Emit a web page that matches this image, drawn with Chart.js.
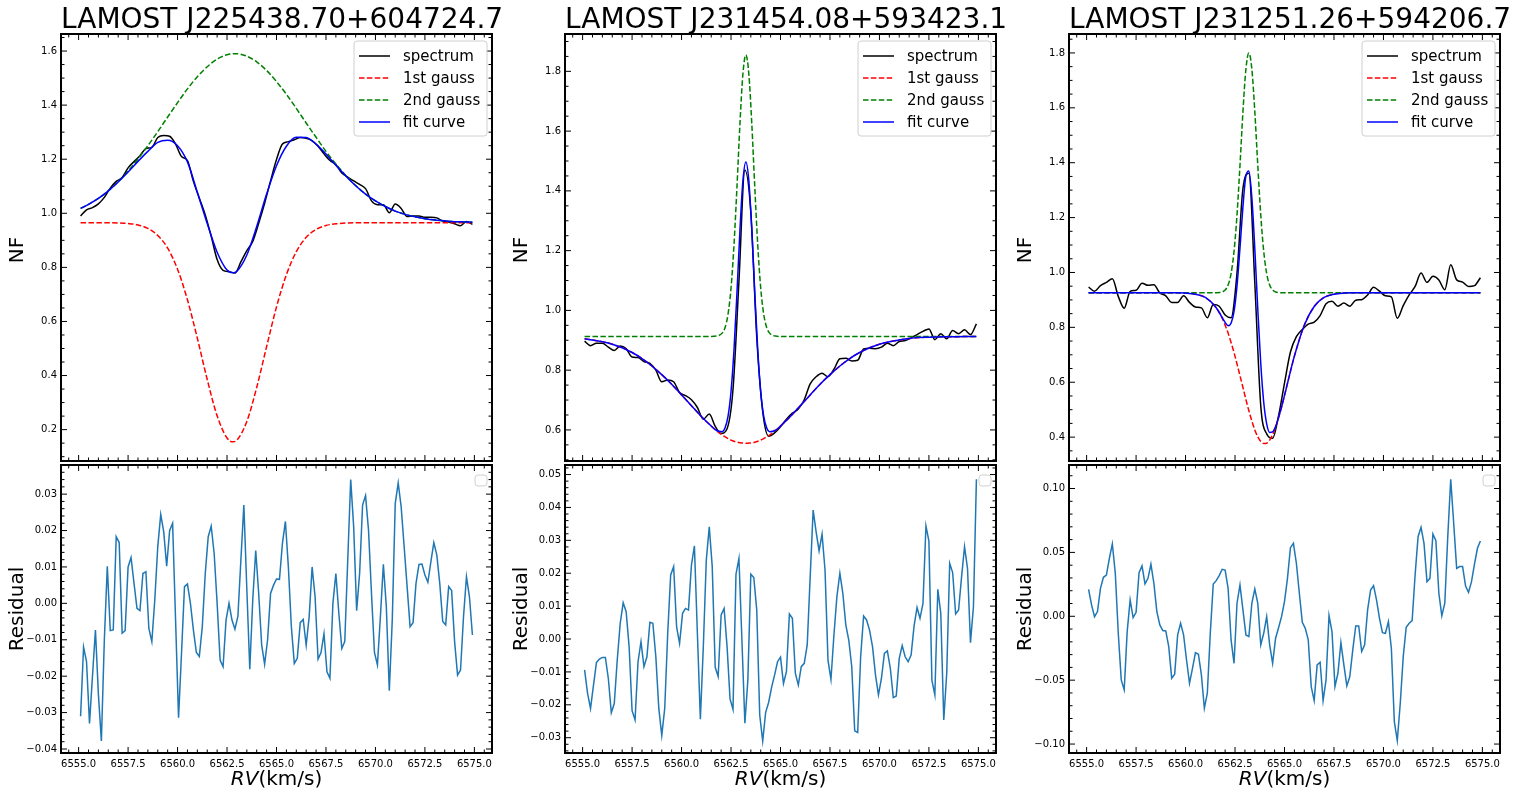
<!DOCTYPE html>
<html><head><meta charset="utf-8">
<script src="https://cdn.jsdelivr.net/npm/chart.js@4.4.1/dist/chart.umd.min.js"></script>
<style>
html,body{margin:0;padding:0;background:#fff;}
body{position:relative;width:1514px;height:797px;overflow:hidden;font-family:'DejaVu Sans',sans-serif;color:#000;}
.ttl{position:absolute;top:5px;width:431px;text-align:center;font-size:28px;line-height:28px;white-space:nowrap;}
.yl{position:absolute;width:200px;height:20px;line-height:20px;font-size:20px;text-align:center;transform:rotate(-90deg);white-space:nowrap;}
.xl{position:absolute;top:768px;width:431px;text-align:center;font-size:20px;line-height:20px;white-space:nowrap;}
canvas{position:absolute;}
</style></head><body>
<script>
// ---------------- data ----------------
const titles = ['LAMOST J225438.70+604724.7','LAMOST J231454.08+593423.1','LAMOST J231251.26+594206.7'];
const legendLabels = ['spectrum','1st gauss','2nd gauss','fit curve'];
const rvTicks = [6555.0,6557.5,6560.0,6562.5,6565.0,6567.5,6570.0,6572.5,6575.0];
const nfTicks1 = [0.2,0.4,0.6,0.8,1.0,1.2,1.4,1.6];
const nfTicks2 = [0.6,0.8,1.0,1.2,1.4,1.6,1.8];
const nfTicks3 = [0.4,0.6,0.8,1.0,1.2,1.4,1.6,1.8];
const resTicks1 = [-0.04,-0.03,-0.02,-0.01,0.00,0.01,0.02,0.03];
const resTicks2 = [-0.03,-0.02,-0.01,0.00,0.01,0.02,0.03,0.04,0.05];
const resTicks3 = [-0.10,-0.05,0.00,0.05,0.10];

// residual grid
const rv = [6555.10,6555.25,6555.40,6555.55,6555.70,6555.85,6556.00,6556.15,6556.30,6556.45,
6556.60,6556.75,6556.90,6557.05,6557.20,6557.35,6557.50,6557.65,6557.80,6557.95,
6558.10,6558.25,6558.40,6558.55,6558.70,6558.85,6559.00,6559.15,6559.30,6559.45,
6559.60,6559.75,6559.90,6560.05,6560.20,6560.35,6560.50,6560.65,6560.80,6560.95,
6561.10,6561.25,6561.40,6561.55,6561.70,6561.85,6562.00,6562.15,6562.30,6562.45,
6562.60,6562.75,6562.90,6563.05,6563.20,6563.35,6563.50,6563.65,6563.80,6563.95,
6564.10,6564.25,6564.40,6564.55,6564.70,6564.85,6565.00,6565.15,6565.30,6565.45,
6565.60,6565.75,6565.90,6566.05,6566.20,6566.35,6566.50,6566.65,6566.80,6566.95,
6567.10,6567.25,6567.40,6567.55,6567.70,6567.85,6568.00,6568.15,6568.30,6568.45,
6568.60,6568.75,6568.90,6569.05,6569.20,6569.35,6569.50,6569.65,6569.80,6569.95,
6570.10,6570.25,6570.40,6570.55,6570.70,6570.85,6571.00,6571.15,6571.30,6571.45,
6571.60,6571.75,6571.90,6572.05,6572.20,6572.35,6572.50,6572.65,6572.80,6572.95,
6573.10,6573.25,6573.40,6573.55,6573.70,6573.85,6574.00,6574.15,6574.30,6574.45,
6574.60,6574.75,6574.90];

const res1 = [-0.031,-0.012,-0.016,-0.033,-0.020,-0.0073,-0.025,-0.0378,-0.010,0.0102,
-0.0075,-0.0073,0.0183,0.0167,-0.0082,-0.0075,0.0100,0.0126,0.0055,-0.0014,
-0.0020,0.0082,0.0087,-0.0069,-0.0105,0.0010,0.0156,0.0244,0.0197,0.0102,
0.0200,0.0220,-0.0046,-0.0314,-0.0137,0.0046,0.0053,0.0000,-0.0073,-0.0135,
-0.0146,-0.0064,0.0082,0.0183,0.0212,0.0137,0.0000,-0.0156,-0.0174,-0.0046,
0.0000,-0.0046,-0.0071,-0.0035,0.0119,0.0270,0.0040,-0.0181,0.0010,0.0145,
0.0027,-0.0114,-0.0167,-0.0100,0.0027,0.0050,0.0067,0.0066,0.0165,0.0225,
0.0100,-0.0064,-0.0165,-0.0151,-0.0053,-0.0044,-0.0115,-0.0037,0.0100,0.0018,
-0.0153,-0.0135,-0.0083,-0.0188,-0.0206,0.0000,0.0082,-0.0027,-0.0124,-0.0105,
0.0119,0.0340,0.0210,-0.0020,0.0082,0.0270,0.0296,0.0201,0.0027,-0.0135,
-0.0169,-0.0037,0.0107,-0.0009,-0.0240,-0.0046,0.0274,0.0331,0.0265,0.0156,
0.0046,-0.0064,-0.0053,0.0055,0.0107,0.0108,0.0078,0.0058,0.0114,0.0167,
0.0133,0.0055,-0.0050,-0.0059,0.0046,0.0035,-0.0105,-0.0197,-0.0183,-0.0037,
0.0073,0.0018,-0.0087];

const res2 = [-0.0094,-0.0165,-0.0211,-0.0140,-0.0071,-0.0061,-0.0056,-0.0056,-0.0120,-0.0224,
-0.0196,-0.0064,0.0048,0.0110,0.0083,-0.0023,-0.0218,-0.0246,-0.0069,-0.0008,
-0.0084,-0.0054,0.0051,0.0048,-0.0054,-0.0211,-0.0293,-0.0211,0.0017,0.0195,
0.0220,0.0037,-0.0013,0.0078,0.0093,0.0088,0.0225,0.0283,0.0017,-0.0244,
-0.0023,0.0240,0.0341,0.0220,-0.0086,-0.0114,0.0073,0.0093,-0.0023,-0.0182,
-0.0214,0.0197,0.0245,-0.0003,-0.0256,-0.0125,0.0197,0.0187,0.0088,-0.0231,
-0.0310,-0.0223,-0.0193,-0.0147,-0.0110,-0.0069,-0.0055,-0.0135,-0.0099,0.0076,
0.0063,-0.0104,-0.0140,-0.0084,-0.0074,-0.0018,0.0189,0.0392,0.0326,0.0268,
0.0319,0.0210,-0.0064,-0.0123,0.0012,0.0129,0.0200,0.0139,0.0043,-0.0003,
-0.0084,-0.0279,-0.0284,-0.0054,0.0070,0.0058,0.0027,-0.0023,-0.0109,-0.0170,
-0.0120,-0.0044,-0.0036,-0.0089,-0.0178,-0.0173,-0.0059,-0.0020,-0.0054,-0.0069,
-0.0049,0.0040,0.0096,0.0063,0.0108,0.0344,0.0298,-0.0125,-0.0170,0.0151,
0.0078,-0.0246,-0.0104,0.0230,0.0202,0.0076,0.0088,0.0189,0.0281,0.0215,
-0.0011,0.0098,0.0486];

const res3 = [0.0211,0.0089,-0.0003,0.0037,0.0219,0.0305,0.0323,0.0454,0.0566,0.0336,
-0.0133,-0.0498,-0.0576,-0.0120,0.0128,-0.0010,0.0031,0.0342,0.0394,0.0253,
0.0297,0.0407,0.0258,0.0037,-0.0068,-0.0112,-0.0115,-0.0237,-0.0485,-0.0454,
-0.0146,-0.0055,-0.0146,-0.0342,-0.0524,-0.0407,-0.0284,-0.0297,-0.0459,-0.0720,
-0.0602,-0.0133,0.0253,0.0279,0.0318,0.0368,0.0362,0.0219,-0.0185,-0.0368,
0.0102,0.0245,0.0050,-0.0146,-0.0159,0.0102,0.0214,0.0102,-0.0224,-0.0133,
-0.0003,-0.0224,-0.0368,-0.0172,-0.0090,-0.0003,0.0115,0.0297,0.0537,0.0571,
0.0415,0.0180,-0.0047,-0.0094,-0.0185,-0.0550,-0.0660,-0.0381,-0.0360,-0.0660,
-0.0498,0.0005,-0.0120,-0.0550,-0.0446,-0.0206,-0.0381,-0.0545,-0.0472,-0.0263,
-0.0076,-0.0076,-0.0276,-0.0224,0.0050,0.0206,0.0240,0.0128,-0.0016,-0.0128,
-0.0133,-0.0042,-0.0250,-0.0824,-0.0973,-0.0681,-0.0316,-0.0086,-0.0055,-0.0034,
0.0323,0.0623,0.0696,0.0571,0.0271,0.0297,0.0644,0.0592,0.0180,0.0003,
0.0102,0.0623,0.1072,0.0728,0.0375,0.0389,0.0389,0.0237,0.0188,0.0271,
0.0409,0.0532,0.0589];

// spectrum grid
const specRV = [6555.1,6555.4,6555.7,6556.0,6556.3,6556.6,6556.9,6557.2,6557.5,6557.8,
6558.1,6558.4,6558.7,6559.0,6559.3,6559.6,6559.9,6560.2,6560.5,6560.8,
6561.1,6561.4,6561.7,6562.0,6562.3,6562.6,6562.9,6563.2,6563.5,6563.8,
6564.1,6564.4,6564.7,6565.0,6565.3,6565.6,6565.9,6566.2,6566.5,6566.8,
6567.1,6567.4,6567.7,6568.0,6568.3,6568.6,6568.9,6569.2,6569.5,6569.8,
6570.1,6570.4,6570.7,6571.0,6571.3,6571.6,6571.9,6572.2,6572.5,6572.8,
6573.1,6573.4,6573.7,6574.0,6574.3,6574.6,6574.9];

const spec1 = [0.990,1.013,1.021,1.035,1.059,1.093,1.118,1.132,1.168,1.191,
1.213,1.239,1.244,1.280,1.288,1.285,1.256,1.210,1.195,1.118,
1.056,0.994,0.915,0.829,0.789,0.784,0.779,0.820,0.862,0.896,
0.963,1.037,1.120,1.199,1.256,1.265,1.272,1.280,1.277,1.268,
1.248,1.220,1.195,1.180,1.149,1.134,1.120,1.107,1.091,1.046,
1.032,1.032,1.002,1.034,1.018,0.988,0.990,0.990,0.985,0.985,
0.983,0.971,0.968,0.961,0.954,0.970,0.959];

const spec2 = [0.897,0.882,0.890,0.890,0.877,0.866,0.881,0.872,0.844,0.842,
0.829,0.823,0.800,0.761,0.767,0.761,0.725,0.715,0.701,0.675,
0.636,0.653,0.612,0.588,0.604,0.736,1.098,1.470,1.330,0.910,
0.662,0.579,0.590,0.611,0.636,0.656,0.670,0.701,0.754,0.778,
0.790,0.778,0.803,0.838,0.840,0.831,0.833,0.871,0.873,0.872,
0.877,0.890,0.882,0.896,0.899,0.908,0.919,0.930,0.938,0.902,
0.922,0.905,0.933,0.922,0.935,0.919,0.955];

const spec3 = [0.947,0.932,0.952,0.964,0.977,0.913,0.870,0.931,0.935,0.961,
0.953,0.955,0.925,0.915,0.891,0.891,0.915,0.891,0.874,0.871,
0.835,0.883,0.877,0.845,0.835,0.998,1.306,1.362,0.961,0.514,
0.412,0.396,0.478,0.597,0.710,0.766,0.792,0.812,0.819,0.843,
0.886,0.895,0.877,0.889,0.877,0.899,0.901,0.918,0.946,0.932,
0.915,0.911,0.833,0.879,0.918,0.949,0.998,0.964,0.986,0.973,
0.937,1.028,0.973,0.965,0.949,0.952,0.981];

// smooth curves, panel 1
const curveRV1 = [6555.1,6555.5,6556.0,6556.5,6557.0,6557.5,6558.0,6558.5,6559.0,6559.5,
6560.0,6560.5,6561.0,6561.5,6562.0,6562.5,6562.8,6563.0,6563.5,6564.0,
6564.5,6565.0,6565.5,6566.0,6566.5,6567.0,6567.5,6568.0,6568.5,6569.0,
6569.5,6570.0,6570.5,6571.0,6571.5,6572.0,6572.5,6573.0,6573.5,6574.0,
6574.5,6574.9];
const gaussA1 = [0.965,0.965,0.965,0.965,0.964,0.962,0.957,0.944,0.918,0.871,
0.793,0.680,0.538,0.385,0.251,0.169,0.155,0.161,0.230,0.356,
0.507,0.654,0.773,0.858,0.911,0.940,0.955,0.961,0.964,0.965,
0.965,0.965,0.965,0.965,0.965,0.965,0.965,0.965,0.965,0.965,
0.965,0.965];
const gaussB1 = [1.018,1.033,1.055,1.083,1.117,1.156,1.201,1.250,1.302,1.356,
1.409,1.460,1.505,1.542,1.570,1.586,1.590,1.590,1.581,1.560,
1.528,1.487,1.440,1.388,1.334,1.281,1.229,1.182,1.140,1.103,
1.071,1.046,1.025,1.008,0.996,0.987,0.980,0.975,0.972,0.969,
0.968,0.967];
const fit1 = [1.018,1.033,1.055,1.083,1.116,1.153,1.192,1.229,1.262,1.270,
1.250,1.190,1.078,0.962,0.856,0.790,0.780,0.786,0.846,0.951,
1.071,1.176,1.248,1.281,1.280,1.256,1.219,1.178,1.138,1.102,
1.071,1.046,1.025,1.008,0.996,0.987,0.980,0.975,0.972,0.969,
0.968,0.967];

// smooth curves, panel 2
const curveRV2 = [6555.1,6555.5,6556.0,6556.5,6557.0,6557.5,6558.0,6558.5,6559.0,6559.5,
6560.0,6560.5,6561.0,6561.5,6561.75,
6562.05,6562.2,6562.35,6562.5,6562.65,6562.8,6562.95,6563.1,6563.25,6563.4,
6563.55,6563.7,6563.85,6564.0,6564.15,6564.3,6564.45,
6564.75,6565.0,6565.5,6566.0,6566.5,6567.0,6567.5,6568.0,6568.5,6569.0,
6569.5,6570.0,6570.5,6571.0,6571.5,6572.0,6572.5,6573.0,6573.5,6574.0,
6574.5,6574.9];
const gaussA2 = [0.905,0.901,0.895,0.887,0.875,0.859,0.839,0.814,0.785,0.753,
0.717,0.681,0.645,0.613,0.598,
0.583,0.577,0.571,0.566,0.562,0.559,0.557,0.556,0.555,0.556,
0.557,0.559,0.562,0.566,0.571,0.577,0.583,
0.598,0.613,0.645,0.681,0.717,0.753,0.785,0.814,0.839,0.859,
0.875,0.887,0.895,0.901,0.906,0.909,0.910,0.911,0.912,0.912,
0.913,0.913];
const gaussB2 = [0.913,0.913,0.913,0.913,0.913,0.913,0.913,0.913,0.913,0.913,
0.913,0.913,0.913,0.913,0.914,
0.924,0.943,0.988,1.075,1.219,1.413,1.624,1.791,1.855,1.791,
1.624,1.413,1.219,1.075,0.988,0.943,0.924,
0.914,0.913,0.913,0.913,0.913,0.913,0.913,0.913,0.913,0.913,
0.913,0.913,0.913,0.913,0.913,0.913,0.913,0.913,0.913,0.913,
0.913,0.913];
const fit2 = [0.905,0.901,0.895,0.887,0.875,0.859,0.839,0.814,0.785,0.753,
0.717,0.681,0.645,0.613,0.599,
0.594,0.607,0.646,0.728,0.868,1.059,1.268,1.434,1.497,1.434,
1.268,1.059,0.868,0.728,0.646,0.607,0.594,
0.599,0.613,0.645,0.681,0.717,0.753,0.785,0.814,0.839,0.859,
0.875,0.887,0.895,0.901,0.906,0.909,0.910,0.911,0.912,0.912,
0.913,0.913];

// smooth curves, panel 3
const curveRV3 = [6555.1,6555.5,6556.0,6556.5,6557.0,6557.5,6558.0,6558.5,6559.0,6559.5,
6560.0,6560.5,6561.0,6561.5,
6561.7,6561.85,6562.0,6562.15,6562.3,6562.45,6562.6,6562.75,6562.9,6563.05,
6563.2,6563.35,6563.5,6563.65,6563.8,6563.95,6564.1,6564.25,6564.4,6564.55,
6564.7,6564.85,6565.0,
6565.5,6566.0,6566.5,6567.0,6567.5,6568.0,6568.5,6569.0,6569.5,6570.0,
6570.5,6571.0,6571.5,6572.0,6572.5,6573.0,6573.5,6574.0,6574.5,6574.9];
const gaussA3 = [0.926,0.926,0.926,0.926,0.926,0.926,0.926,0.926,0.926,0.926,
0.925,0.921,0.909,0.876,
0.854,0.833,0.808,0.779,0.745,0.708,0.667,0.624,0.581,0.537,
0.496,0.459,0.426,0.401,0.384,0.377,0.378,0.389,0.409,0.436,
0.471,0.509,0.552,
0.695,0.808,0.876,0.909,0.921,0.925,0.926,0.926,0.926,0.926,
0.926,0.926,0.926,0.926,0.926,0.926,0.926,0.926,0.926,0.926];
const gaussB3 = [0.926,0.926,0.926,0.926,0.926,0.926,0.926,0.926,0.926,0.926,
0.926,0.926,0.926,0.926,
0.927,0.929,0.936,0.954,0.996,1.077,1.210,1.390,1.586,1.741,
1.800,1.741,1.586,1.390,1.210,1.077,0.996,0.954,0.936,0.929,
0.927,0.926,0.926,
0.926,0.926,0.926,0.926,0.926,0.926,0.926,0.926,0.926,0.926,
0.926,0.926,0.926,0.926,0.926,0.926,0.926,0.926,0.926,0.926];
const fit3 = [0.926,0.926,0.926,0.926,0.926,0.926,0.926,0.926,0.926,0.926,
0.925,0.921,0.909,0.876,
0.855,0.836,0.818,0.806,0.815,0.858,0.951,1.089,1.240,1.352,
1.370,1.273,1.086,0.866,0.668,0.527,0.448,0.417,0.419,0.439,
0.471,0.510,0.552,
0.695,0.808,0.876,0.909,0.921,0.925,0.926,0.926,0.926,0.926,
0.926,0.926,0.926,0.926,0.926,0.926,0.926,0.926,0.926,0.926];

// ---------------- drawing ----------------
Chart.defaults.font.family = "'DejaVu Sans', sans-serif";
Chart.defaults.color = '#000';

const COLS = [61, 565, 1069];
const PW = 431;
const LEFTPAD = 48, TOPPAD = 4, RIGHTPAD = 6;

function fmt(v, d) {
  if (Math.abs(v) < 1e-12) v = 0;
  const s = Math.abs(v).toFixed(d);
  return v < 0 ? '\u2212' + s : s;
}
function pts(xs, ys) { return xs.map((x, i) => ({x: x, y: ys[i]})); }

function rrect(ctx, x, y, w, h, r) {
  ctx.beginPath();
  ctx.moveTo(x + r, y); ctx.lineTo(x + w - r, y); ctx.arcTo(x + w, y, x + w, y + r, r);
  ctx.lineTo(x + w, y + h - r); ctx.arcTo(x + w, y + h, x + w - r, y + h, r);
  ctx.lineTo(x + r, y + h); ctx.arcTo(x, y + h, x, y + h - r, r);
  ctx.lineTo(x, y + r); ctx.arcTo(x, y, x + r, y, r); ctx.closePath();
}

const framePlugin = {
  id: 'mplFrame',
  afterDatasetsDraw(chart, args, o) {
    const ctx = chart.ctx, a = chart.chartArea;
    const xs = chart.scales.x, ys = chart.scales.y;
    ctx.save();
    ctx.strokeStyle = '#000';
    ctx.lineWidth = 1;
    const tickX = (v, len) => { const p = xs.getPixelForValue(v); ctx.beginPath(); ctx.moveTo(p, a.bottom); ctx.lineTo(p, a.bottom - len); ctx.moveTo(p, a.top); ctx.lineTo(p, a.top + len); ctx.stroke(); };
    const tickY = (v, len) => { const p = ys.getPixelForValue(v); ctx.beginPath(); ctx.moveTo(a.left, p); ctx.lineTo(a.left + len, p); ctx.moveTo(a.right, p); ctx.lineTo(a.right - len, p); ctx.stroke(); };
    const minors = (min, max, step, majors) => {
      const out = [];
      for (let k = Math.ceil(min / step - 1e-9); k * step <= max + 1e-9; k++) {
        const v = k * step;
        if (!majors.some(m => Math.abs(m - v) < step * 1e-3)) out.push(v);
      }
      return out;
    };
    o.xMajor.forEach(v => tickX(v, 6));
    minors(xs.min, xs.max, o.xMinor, o.xMajor).forEach(v => tickX(v, 3.5));
    o.yMajor.forEach(v => tickY(v, 6));
    minors(ys.min, ys.max, o.yMinor, o.yMajor).forEach(v => tickY(v, 3.5));
    ctx.lineWidth = 2;
    ctx.strokeRect(a.left, a.top, a.right - a.left, a.bottom - a.top);
    if (o.legend) {
      const bw = 133, bh = 95, bx = a.right - 5 - bw, by = a.top + 7;
      rrect(ctx, bx, by, bw, bh, 3);
      ctx.fillStyle = 'rgba(255,255,255,0.8)'; ctx.fill();
      ctx.strokeStyle = '#d0d0d0'; ctx.lineWidth = 1; ctx.stroke();
      chart.data.datasets.forEach((ds, i) => {
        const cy = by + 15 + 22 * i;
        ctx.setLineDash(ds.borderDash || []);
        ctx.strokeStyle = ds.borderColor; ctx.lineWidth = 1.5;
        ctx.beginPath(); ctx.moveTo(bx + 5, cy); ctx.lineTo(bx + 36, cy); ctx.stroke();
        ctx.setLineDash([]);
        ctx.fillStyle = '#000'; ctx.font = "15px 'DejaVu Sans'"; ctx.textBaseline = 'alphabetic'; ctx.textAlign = 'left';
        ctx.fillText(ds.label, bx + 49, cy + 5);
      });
    }
    if (o.emptyLegend) {
      rrect(ctx, a.right - 5 - 12, a.top + 10, 12, 11, 3);
      ctx.fillStyle = 'rgba(255,255,255,0.8)'; ctx.fill();
      ctx.strokeStyle = '#d0d0d0'; ctx.lineWidth = 1; ctx.stroke();
    }
    ctx.restore();
  }
};

function noPad(s) { s.paddingTop = 0; s.paddingBottom = 0; s.paddingLeft = 0; s.paddingRight = 0; }

function panel(col, isTop, datasets, yMin, yMax, yTicks, yDec, yMinor) {
  const L = COLS[col], T = isTop ? 34 : 465, H = isTop ? 431 : 288;
  const BOT = isTop ? 4 : 26;
  const cw = LEFTPAD + PW + RIGHTPAD, ch = TOPPAD + H + BOT;
  const cv = document.createElement('canvas');
  cv.width = cw; cv.height = ch;
  cv.style.left = (L - LEFTPAD) + 'px'; cv.style.top = (T - TOPPAD) + 'px';
  cv.style.width = cw + 'px'; cv.style.height = ch + 'px';
  document.body.appendChild(cv);
  new Chart(cv, {
    type: 'line',
    data: { datasets: datasets },
    options: {
      responsive: false, animation: false, devicePixelRatio: 1,
      events: [],
      layout: { autoPadding: false, padding: { top: TOPPAD, right: RIGHTPAD, left: 0, bottom: isTop ? BOT : 0 } },
      plugins: {
        legend: { display: false }, tooltip: { enabled: false },
        mplFrame: { xMajor: rvTicks, xMinor: 0.5, yMajor: yTicks, yMinor: yMinor, legend: isTop, emptyLegend: !isTop }
      },
      scales: {
        x: {
          type: 'linear', min: 6554.11, max: 6575.89, display: !isTop,
          grid: { display: false, drawTicks: false }, border: { display: false },
          afterBuildTicks: s => { s.ticks = rvTicks.map(v => ({ value: v })); },
          afterFit: s => { s.height = BOT; noPad(s); },
          ticks: { autoSkip: false, maxRotation: 0, minRotation: 0, padding: 5, font: { size: 10 }, color: '#000', callback: v => v.toFixed(1) }
        },
        y: {
          type: 'linear', min: yMin, max: yMax,
          grid: { display: false, drawTicks: false }, border: { display: false },
          afterBuildTicks: s => { s.ticks = yTicks.map(v => ({ value: v })); },
          afterFit: s => { s.width = LEFTPAD; noPad(s); },
          ticks: { padding: 4, font: { size: 10 }, color: '#000', callback: v => fmt(v, yDec) }
        }
      }
    },
    plugins: [framePlugin]
  });
}

function topSets(spec, cx, ga, gb, fit) {
  const base = { pointRadius: 0, borderWidth: 1.5, fill: false, cubicInterpolationMode: 'monotone' };
  return [
    Object.assign({ label: legendLabels[0], data: pts(specRV, spec), borderColor: '#000000', order: 3 }, base),
    Object.assign({ label: legendLabels[1], data: pts(cx, ga), borderColor: '#ff0000', borderDash: [5.5, 2.4], order: 2 }, base),
    Object.assign({ label: legendLabels[2], data: pts(cx, gb), borderColor: '#008000', borderDash: [5.5, 2.4], order: 1 }, base),
    Object.assign({ label: legendLabels[3], data: pts(cx, fit), borderColor: '#0000ff', order: 0 }, base)
  ];
}
function resSets(res) {
  return [{ label: 'residual', data: pts(rv, res), borderColor: '#1f77b4', borderWidth: 1.5, pointRadius: 0, fill: false, tension: 0 }];
}

panel(0, true, topSets(spec1, curveRV1, gaussA1, gaussB1, fit1), 0.084, 1.663, nfTicks1, 1, 0.05);
panel(1, true, topSets(spec2, curveRV2, gaussA2, gaussB2, fit2), 0.496, 1.925, nfTicks2, 1, 0.05);
panel(2, true, topSets(spec3, curveRV3, gaussA3, gaussB3, fit3), 0.313, 1.869, nfTicks3, 1, 0.05);
panel(0, false, resSets(res1), -0.0411, 0.0380, resTicks1, 2, 0.002);
panel(1, false, resSets(res2), -0.03465, 0.0529, resTicks2, 2, 0.002);
panel(2, false, resSets(res3), -0.107, 0.1184, resTicks3, 2, 0.01);

// text
COLS.forEach((L, i) => {
  const t = document.createElement('div'); t.className = 'ttl'; t.style.left = L + 'px'; t.textContent = titles[i]; document.body.appendChild(t);
  const cx = L - 45;
  const y1 = document.createElement('div'); y1.className = 'yl'; y1.textContent = 'NF';
  y1.style.left = (cx - 100) + 'px'; y1.style.top = (249.5 - 10) + 'px'; document.body.appendChild(y1);
  const y2 = document.createElement('div'); y2.className = 'yl'; y2.textContent = 'Residual';
  y2.style.left = (cx - 100) + 'px'; y2.style.top = (609 - 10) + 'px'; document.body.appendChild(y2);
  const xl = document.createElement('div'); xl.className = 'xl'; xl.style.left = L + 'px';
  xl.innerHTML = '<i>RV</i>(km/s)'; document.body.appendChild(xl);
});
</script>
</body></html>
